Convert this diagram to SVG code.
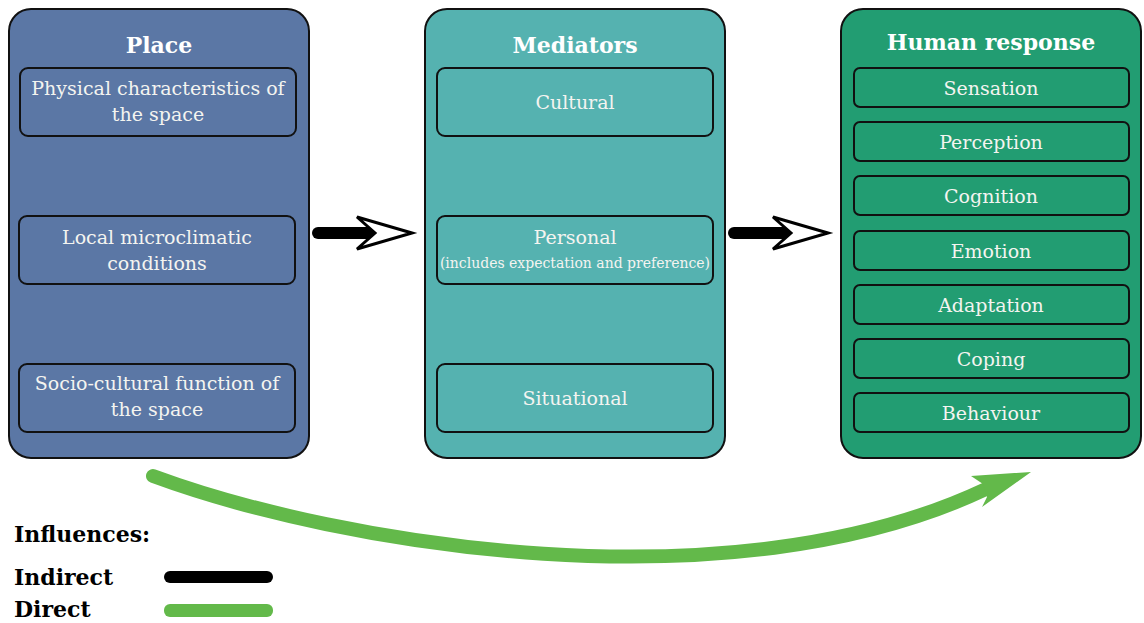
<svg xmlns="http://www.w3.org/2000/svg" width="1144" height="623" viewBox="0 0 1144 623">
  <style>
    .outer { stroke: #111; stroke-width: 2; }
    .inner { fill: none; stroke: #111; stroke-width: 2; }
    .place { fill: #5b77a5; }
    .med { fill: #55b2b0; }
    .resp { fill: #229d72; }
    .title { font-family: "DejaVu Serif", "Liberation Serif", serif; font-weight: bold; font-size: 22px; fill: #fff; text-anchor: middle; }
    .item { font-family: "DejaVu Serif", "Liberation Serif", serif; font-size: 19px; fill: #f4f4f0; text-anchor: middle; }
    .small { font-family: "DejaVu Serif", "Liberation Serif", serif; font-size: 14px; fill: #f4f4f0; text-anchor: middle; }
    .legend { font-family: "DejaVu Serif", "Liberation Serif", serif; font-weight: bold; font-size: 22px; fill: #000; }
    .shaft { stroke: #000; stroke-width: 12; stroke-linecap: round; fill: none; }
    .head { fill: #fff; stroke: #000; stroke-width: 3; stroke-linejoin: miter; }
  </style>

  <!-- Place -->
  <g id="place">
    <rect class="outer place" x="9" y="9" width="300" height="449" rx="22"/>
    <text class="title" x="159" y="53">Place</text>
    <rect class="inner" x="20" y="68" width="276" height="68" rx="8"/>
    <text class="item" x="158" y="95">Physical characteristics of</text>
    <text class="item" x="158" y="121">the space</text>
    <rect class="inner" x="19" y="216" width="276" height="68" rx="8"/>
    <text class="item" x="157" y="244">Local microclimatic</text>
    <text class="item" x="157" y="270">conditions</text>
    <rect class="inner" x="19" y="364" width="276" height="68" rx="8"/>
    <text class="item" x="157" y="390">Socio-cultural function of</text>
    <text class="item" x="157" y="416">the space</text>
  </g>

  <!-- Mediators -->
  <g id="mediators">
    <rect class="outer med" x="425" y="9" width="300" height="449" rx="22"/>
    <text class="title" x="575" y="53">Mediators</text>
    <rect class="inner" x="437" y="68" width="276" height="68" rx="8"/>
    <text class="item" x="575" y="109">Cultural</text>
    <rect class="inner" x="437" y="216" width="276" height="68" rx="8"/>
    <text class="item" x="575" y="244">Personal</text>
    <text class="small" x="575" y="268">(includes expectation and preference)</text>
    <rect class="inner" x="437" y="364" width="276" height="68" rx="8"/>
    <text class="item" x="575" y="405">Situational</text>
  </g>

  <!-- Human response -->
  <g id="human-response">
    <rect class="outer resp" x="841" y="9" width="300" height="449" rx="22"/>
    <text class="title" x="991" y="50">Human response</text>
    <rect class="inner" x="854" y="68" width="275" height="39" rx="6"/>
    <text class="item" x="991" y="95">Sensation</text>
    <rect class="inner" x="854" y="122" width="275" height="39" rx="6"/>
    <text class="item" x="991" y="149">Perception</text>
    <rect class="inner" x="854" y="176" width="275" height="39" rx="6"/>
    <text class="item" x="991" y="203">Cognition</text>
    <rect class="inner" x="854" y="231" width="275" height="39" rx="6"/>
    <text class="item" x="991" y="258">Emotion</text>
    <rect class="inner" x="854" y="285" width="275" height="39" rx="6"/>
    <text class="item" x="991" y="312">Adaptation</text>
    <rect class="inner" x="854" y="339" width="275" height="39" rx="6"/>
    <text class="item" x="991" y="366">Coping</text>
    <rect class="inner" x="854" y="393" width="275" height="39" rx="6"/>
    <text class="item" x="991" y="420">Behaviour</text>
  </g>

  <!-- Connectors -->
  <g id="connectors">
    <!-- indirect: place -> mediators -->
    <line class="shaft" x1="318" y1="233" x2="372" y2="233"/>
    <polygon class="head" points="412,233 357,217 375,233 357,249"/>
    <!-- indirect: mediators -> human response -->
    <line class="shaft" x1="734" y1="233" x2="788" y2="233"/>
    <polygon class="head" points="828,233 773,217 791,233 773,249"/>
    <!-- direct: place -> human response -->
    <path d="M153,476 C340,545 730,610 986,489" fill="none" stroke="#63b94a" stroke-width="14" stroke-linecap="round"/>
    <polygon points="1031,472 971,476 983,484 987,497 982,507" fill="#63b94a"/>
  </g>

  <!-- Legend -->
  <g id="legend">
    <text class="legend" x="14" y="542">Influences:</text>
    <text class="legend" x="14" y="585">Indirect</text>
    <text class="legend" x="14" y="617">Direct</text>
    <rect x="164" y="571" width="109" height="12" rx="6" fill="#000"/>
    <rect x="164" y="604" width="109" height="13" rx="6" fill="#63b94a"/>
  </g>
</svg>
